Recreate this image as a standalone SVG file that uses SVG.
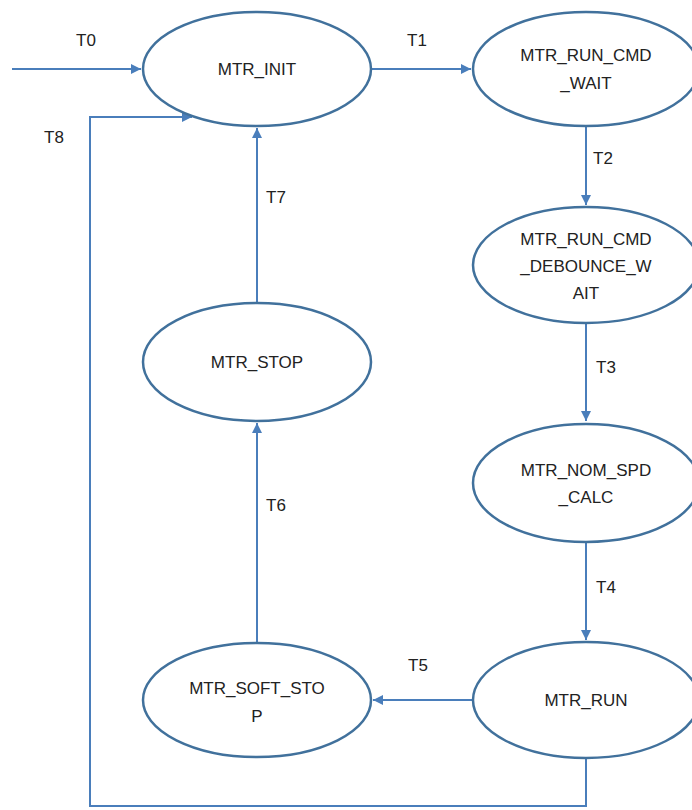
<svg xmlns="http://www.w3.org/2000/svg" width="692" height="810" viewBox="0 0 692 810">
<style>
.node ellipse{fill:#fff;stroke:#41719C;stroke-width:2.5}
.node text,.lbl{font-family:"Liberation Sans",Arial,sans-serif;font-size:17px;fill:#222;text-anchor:middle;dominant-baseline:central}
.conn{fill:none;stroke:#4A7EBB;stroke-width:2}
</style>
<defs>
<marker id="ah" viewBox="0 0 10 10" refX="10" refY="5" markerWidth="5" markerHeight="5" orient="auto" markerUnits="strokeWidth">
<path d="M0,0 L10,5 L0,10 z" fill="#4A7EBB"/>
</marker>
</defs>
<rect width="692" height="810" fill="#fff"/>
<g id="connectors">
<path class="conn" d="M12,69 H141" marker-end="url(#ah)"/>
<path class="conn" d="M371,69 H471" marker-end="url(#ah)"/>
<path class="conn" d="M586,126 V205" marker-end="url(#ah)"/>
<path class="conn" d="M586,323 V421" marker-end="url(#ah)"/>
<path class="conn" d="M586,543 V640" marker-end="url(#ah)"/>
<path class="conn" d="M473,700 H373" marker-end="url(#ah)"/>
<path class="conn" d="M257,643 V423" marker-end="url(#ah)"/>
<path class="conn" d="M257,303 V128" marker-end="url(#ah)"/>
<path class="conn" d="M586,757 V806 H90 V117 H192" marker-end="url(#ah)"/>
<text class="lbl" x="86" y="40">T0</text>
<text class="lbl" x="417" y="40">T1</text>
<text class="lbl" x="603" y="158">T2</text>
<text class="lbl" x="606" y="367">T3</text>
<text class="lbl" x="606" y="587">T4</text>
<text class="lbl" x="418" y="665">T5</text>
<text class="lbl" x="276" y="505">T6</text>
<text class="lbl" x="276" y="197">T7</text>
<text class="lbl" x="54" y="137">T8</text>
</g>
<g id="mtr_init" class="node"><ellipse cx="257" cy="69" rx="114" ry="57"/><text x="257" y="69">MTR_INIT</text></g>
<g id="mtr_run_cmd_wait" class="node"><ellipse cx="586" cy="69" rx="113" ry="57"/><text x="586" y="55">MTR_RUN_CMD</text><text x="586" y="83">_WAIT</text></g>
<g id="mtr_run_cmd_debounce_wait" class="node"><ellipse cx="586" cy="265" rx="113" ry="58"/><text x="586" y="239">MTR_RUN_CMD</text><text x="586" y="266">_DEBOUNCE_W</text><text x="586" y="293">AIT</text></g>
<g id="mtr_nom_spd_calc" class="node"><ellipse cx="586" cy="483" rx="113" ry="59"/><text x="586" y="470">MTR_NOM_SPD</text><text x="586" y="497">_CALC</text></g>
<g id="mtr_run" class="node"><ellipse cx="586" cy="700" rx="113" ry="58"/><text x="586" y="700">MTR_RUN</text></g>
<g id="mtr_stop" class="node"><ellipse cx="257" cy="362" rx="114" ry="59"/><text x="257" y="362">MTR_STOP</text></g>
<g id="mtr_soft_stop" class="node"><ellipse cx="257" cy="700" rx="114" ry="57"/><text x="257" y="688">MTR_SOFT_STO</text><text x="257" y="716">P</text></g>
</svg>
